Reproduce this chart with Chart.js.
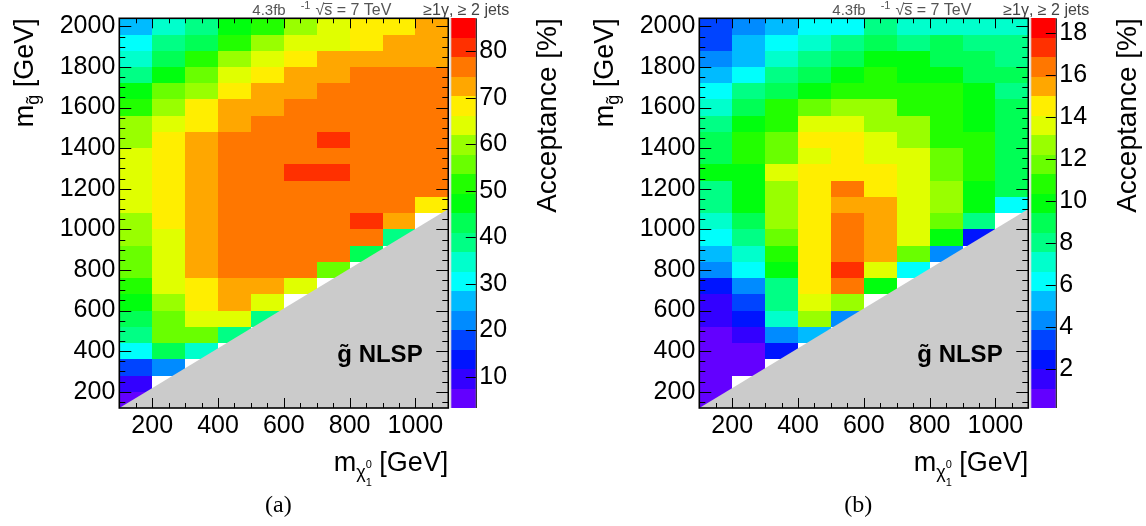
<!DOCTYPE html>
<html>
<head>
<meta charset="utf-8">
<title>Acceptance maps</title>
<script src="https://cdn.jsdelivr.net/npm/chart.js@4.4.1/dist/chart.umd.min.js"></script>
<style>
  html, body { margin: 0; padding: 0; background: #fff; overflow: hidden; }
  .panel { position: absolute; top: 0; }
  #panelA { left: 0; }
  #panelB { left: 580px; }
</style>
</head>
<body>
<canvas id="panelA" class="panel" width="580" height="526"></canvas>
<canvas id="panelB" class="panel" width="566" height="526"></canvas>
<script>
// scan points (bin centres, GeV)
const neutralinoMass = [150, 250, 350, 450, 550, 650, 750, 850, 950, 1050];
const gluinoMass = [2000, 1920, 1840, 1760, 1680, 1600, 1520, 1440, 1360, 1280, 1200, 1120,
                    1040, 960, 880, 800, 720, 640, 560, 480, 400, 320, 240, 160];

// (a) acceptance [%], one row per gluino mass, one column per neutralino mass
const acceptanceA = [
  [26.1, 34.9, 38.6, 47.0, 51.8, 59.5, 63.7, 68.4, 67.9, 72.1],
  [30.2, 39.3, 43.4, 51.0, 60.1, 64.3, 63.8, 68.6, 72.0, 72.6],
  [34.5, 42.8, 51.2, 59.6, 64.4, 68.0, 72.4, 71.9, 72.5, 72.8],
  [38.7, 47.6, 55.4, 64.2, 67.8, 72.1, 72.9, 76.2, 76.7, 76.4],
  [47.1, 55.9, 59.4, 68.3, 72.6, 72.2, 76.8, 76.3, 76.9, 76.6],
  [51.7, 60.2, 68.5, 72.0, 72.7, 76.4, 76.8, 77.0, 76.5, 76.7],
  [59.7, 63.8, 68.2, 72.4, 76.1, 76.9, 77.2, 76.6, 76.8, 76.3],
  [60.1, 68.0, 72.3, 76.7, 77.1, 76.9, 80.5, 77.3, 76.8, 76.5],
  [64.1, 68.4, 72.0, 76.6, 77.0, 77.4, 77.1, 76.9, 76.7, 76.2],
  [63.9, 68.3, 72.5, 76.8, 77.2, 80.6, 80.9, 77.0, 76.6, 76.4],
  [64.3, 67.9, 72.2, 76.5, 77.0, 77.3, 76.9, 76.7, 76.8, 76.1],
  [64.0, 68.2, 72.4, 76.3, 76.9, 77.1, 76.8, 76.5, 76.0, 68.4],
  [59.6, 68.1, 72.6, 76.4, 76.8, 76.7, 76.9, 80.8, 72.1, null],
  [59.9, 63.6, 72.3, 76.2, 76.6, 76.8, 76.5, 76.1, 38.8, null],
  [55.8, 63.9, 72.1, 76.0, 76.4, 76.3, 75.9, 43.0, null, null],
  [55.4, 64.2, 71.8, 75.8, 76.2, 75.6, 55.5, null, null, null],
  [51.3, 64.1, 68.0, 72.2, 71.9, 63.8, null, null, null, null],
  [47.5, 59.7, 68.3, 72.0, 63.9, null, null, null, null, null],
  [43.2, 55.7, 64.0, 63.6, 38.7, null, null, null, null, null],
  [38.9, 55.3, 55.6, 39.1, null, null, null, null, null, null],
  [30.4, 43.0, 34.6, null, null, null, null, null, null, null],
  [17.8, 22.3, null, null, null, null, null, null, null, null],
  [9.5, null, null, null, null, null, null, null, null, null],
  [5.2, null, null, null, null, null, null, null, null, null]
];

// (b) acceptance [%]
const acceptanceB = [
  [3.4, 4.3, 5.2, 6.1, 6.2, 8.0, 7.1, 7.0, 7.2, 7.1],
  [3.3, 5.3, 6.2, 7.1, 8.1, 9.0, 7.9, 8.9, 8.0, 8.1],
  [4.3, 5.2, 7.0, 8.0, 9.0, 9.9, 9.8, 9.0, 8.9, 8.0],
  [5.3, 6.1, 8.0, 8.9, 9.9, 10.8, 9.9, 9.8, 9.0, 8.9],
  [6.2, 8.1, 9.0, 9.9, 10.8, 10.9, 10.7, 10.8, 9.8, 8.0],
  [7.1, 9.0, 10.8, 11.8, 12.7, 12.6, 10.9, 10.8, 9.9, 9.0],
  [8.0, 9.9, 10.8, 13.6, 13.7, 12.7, 12.6, 10.8, 9.9, 8.9],
  [9.0, 10.8, 11.7, 14.5, 14.6, 13.6, 12.7, 10.9, 10.8, 9.0],
  [8.9, 10.9, 11.8, 13.6, 14.5, 13.7, 13.6, 11.7, 10.8, 8.9],
  [9.9, 9.8, 13.6, 14.6, 14.5, 14.6, 13.7, 11.8, 10.8, 9.0],
  [8.0, 9.9, 12.7, 14.5, 16.4, 14.6, 13.6, 12.7, 9.9, 8.9],
  [8.1, 9.8, 12.6, 14.5, 15.5, 15.4, 13.6, 12.7, 9.8, 6.2],
  [7.1, 9.0, 12.7, 14.6, 16.4, 15.5, 13.6, 11.8, 8.0, null],
  [6.1, 8.0, 11.7, 14.5, 16.5, 15.4, 13.7, 9.9, 2.4, null],
  [5.2, 7.1, 10.8, 14.6, 16.4, 15.5, 11.7, 4.3, null, null],
  [4.3, 6.2, 9.9, 14.5, 17.3, 13.6, 6.2, null, null, null],
  [2.5, 4.3, 8.0, 14.6, 16.4, 9.9, null, null, null, null],
  [1.5, 3.4, 8.1, 13.6, 12.7, null, null, null, null, null],
  [1.5, 2.4, 7.0, 12.6, 4.3, null, null, null, null, null],
  [0.6, 1.5, 4.2, 5.2, null, null, null, null, null, null],
  [0.5, 0.6, 2.5, null, null, null, null, null, null, null],
  [0.6, 0.5, null, null, null, null, null, null, null, null],
  [0.6, null, null, null, null, null, null, null, null, null],
  [0.5, null, null, null, null, null, null, null, null, null]
];

// colour scale ranges and tick labels
const zRangeA = [3.3, 87.1];
const zRangeB = [0.12, 18.72];
const zTicksA = [10, 20, 30, 40, 50, 60, 70, 80];
const zTicksB = [2, 4, 6, 8, 10, 12, 14, 16, 18];
const xTicks = [200, 400, 600, 800, 1000];
const yTicks = [200, 400, 600, 800, 1000, 1200, 1400, 1600, 1800, 2000];
const xRange = [100, 1100];
const yRange = [120, 2040];

// kinematic limit (m_gluino < m_neutralino is excluded)
const limitNeutralino = [100, 1100];
const limitGluino = [120, 1100];

const nContours = 20;
const SANS = '"Liberation Sans", Arial, Helvetica, sans-serif';
Chart.defaults.font.family = SANS;

// ROOT "pretty" palette: 50 hues from violet to red, 20 contour bands
function bandColour(band) {
    const idx = Math.floor((band + 0.99) * 50 / nContours);
    if (idx >= 49) return 'rgb(255,0,0)';
    return 'hsl(' + (280 - (idx + 1) * 5.6) + ',100%,50%)';
}

function bandOf(v, zMin, zMax) {
    const b = Math.floor((v - zMin) / (zMax - zMin) * nContours);
    return Math.max(0, Math.min(nContours - 1, b));
}

function line(ctx, x0, y0, x1, y1) {
    ctx.beginPath();
    ctx.moveTo(x0, y0);
    ctx.lineTo(x1, y1);
    ctx.stroke();
}

// draws a run of text pieces on one baseline (sub/superscripts via dy)
function drawParts(ctx, parts, x, y, align) {
    let total = 0;
    parts.forEach(p => {
        ctx.font = (p.bold ? 'bold ' : '') + p.size + 'px ' + SANS;
        p.w = ctx.measureText(p.t).width;
        if (p.adv !== false) total += p.w + (p.gap || 0);
    });
    let cx = align === 'right' ? x - total : (align === 'center' ? x - total / 2 : x);
    ctx.textAlign = 'left';
    parts.forEach(p => {
        ctx.font = (p.bold ? 'bold ' : '') + p.size + 'px ' + SANS;
        cx += p.gap || 0;
        p.x = cx;
        ctx.fillText(p.t, cx, y + (p.dy || 0));
        if (p.adv !== false) cx += p.w;
    });
    return parts;
}

const heatmapPlugin = {
    id: 'heatmap',
    beforeDatasetsDraw(chart) {
        const {ctx, chartArea: a, scales: {x, y, z}} = chart;
        const hx = (neutralinoMass[1] - neutralinoMass[0]) / 2;
        const hy = (gluinoMass[0] - gluinoMass[1]) / 2;
        ctx.save();
        ctx.beginPath();
        ctx.rect(a.left, a.top, a.width, a.height);
        ctx.clip();
        chart.data.datasets[0].data.forEach(p => {
            const x0 = Math.round(x.getPixelForValue(p.x - hx));
            const x1 = Math.round(x.getPixelForValue(p.x + hx));
            const y0 = Math.round(y.getPixelForValue(p.y + hy));
            const y1 = Math.round(y.getPixelForValue(p.y - hy));
            ctx.fillStyle = bandColour(bandOf(p.v, z.min, z.max));
            ctx.fillRect(x0, y0, x1 - x0, y1 - y0);
        });
        // excluded region
        ctx.fillStyle = '#cbcbcb';
        ctx.beginPath();
        ctx.moveTo(x.getPixelForValue(limitNeutralino[0]), y.getPixelForValue(limitGluino[0]));
        ctx.lineTo(x.getPixelForValue(limitNeutralino[1]), y.getPixelForValue(limitGluino[1]));
        ctx.lineTo(x.getPixelForValue(limitNeutralino[1]), y.getPixelForValue(limitGluino[0]));
        ctx.closePath();
        ctx.fill();
        ctx.restore();
    },
    afterDraw(chart, args, opts) {
        const {ctx, chartArea: a, scales: {x, y, z}} = chart;
        ctx.save();
        ctx.strokeStyle = '#000';
        ctx.fillStyle = '#000';

        // frame with ticks on all four sides
        ctx.lineWidth = 1;
        for (let v = 150; v <= 2000; v += 50) {
            const py = Math.round(y.getPixelForValue(v)) + 0.5;
            const len = v % 200 === 0 ? 12 : 6;
            line(ctx, a.left, py, a.left + len, py);
            line(ctx, a.right, py, a.right - len, py);
        }
        for (let v = 150; v < 1100; v += 50) {
            const px = Math.round(x.getPixelForValue(v)) + 0.5;
            const len = v % 200 === 0 ? 10 : 5;
            line(ctx, px, a.bottom, px, a.bottom - len);
            line(ctx, px, a.top, px, a.top + len);
        }
        ctx.lineWidth = 1.6;
        ctx.strokeRect(a.left, a.top, a.width, a.height);

        // colour palette
        const p0 = a.right + 2.5, p1 = a.right + 27.5;
        for (let k = 0; k < nContours; k++) {
            const lo = z.min + k * (z.max - z.min) / nContours;
            const hi = z.min + (k + 1) * (z.max - z.min) / nContours;
            const yLo = Math.round(z.getPixelForValue(lo));
            const yHi = Math.round(z.getPixelForValue(hi));
            ctx.fillStyle = bandColour(k);
            ctx.fillRect(p0, yHi, p1 - p0, yLo - yHi);
        }
        ctx.lineWidth = 1;
        line(ctx, p1 + 0.5, a.top, p1 + 0.5, a.bottom);
        ctx.strokeStyle = '#ddd';
        line(ctx, p0, a.top, p0, a.bottom);
        ctx.strokeStyle = '#000';
        z.ticks.forEach(t => {
            const py = Math.round(z.getPixelForValue(t.value)) + 0.5;
            line(ctx, p1, py, p1 - 10, py);
        });

        ctx.fillStyle = '#000';
        ctx.textBaseline = 'alphabetic';

        // gluino NLSP label
        drawParts(ctx, [{t: 'g\u0303 NLSP', size: 24, bold: true}], a.right - 111, a.bottom - 46, 'left');

        // x title
        drawParts(ctx, [
            {t: 'm', size: 27},
            {t: '\u03C7', size: 18, dy: 7},
            {t: '0', size: 11, dy: -3, adv: false},
            {t: '1', size: 11, dy: 15},
            {t: ' [GeV]', size: 27}
        ], a.right, a.bottom + 63, 'right');

        // y title
        ctx.save();
        ctx.translate(a.left - 86, a.top);
        ctx.rotate(-Math.PI / 2);
        drawParts(ctx, [
            {t: 'm', size: 27},
            {t: 'g\u0303', size: 18, dy: 6},
            {t: ' [GeV]', size: 27}
        ], 0, 0, 'right');
        ctx.restore();

        // colour axis title
        ctx.save();
        ctx.translate(a.right + 108, a.top);
        ctx.rotate(-Math.PI / 2);
        drawParts(ctx, [{t: 'Acceptance [%]', size: 28}], 0, 0, 'right');
        ctx.restore();

        // header
        ctx.fillStyle = '#555';
        const head = drawParts(ctx, [
            {t: '4.3fb', size: 15},
            {t: '-1', size: 11, dy: -6, gap: 15},
            {t: '\u221As = 7 TeV', size: 16, gap: 5}
        ], a.left + 133, 15, 'left');
        ctx.font = '16px ' + SANS;
        const sx = head[2].x + ctx.measureText('\u221A').width;
        ctx.strokeStyle = '#555';
        line(ctx, sx - 1, 3.5, sx + ctx.measureText('s').width, 3.5);
        ctx.fillStyle = '#444';
        drawParts(ctx, [{t: '\u22651\u03B3, \u2265 2 jets', size: 16}], a.right + 61, 15, 'right');

        // panel tag
        ctx.fillStyle = '#000';
        ctx.font = '24px "Liberation Serif", "DejaVu Serif", serif';
        ctx.textAlign = 'center';
        ctx.fillText(opts.tag, a.left + 159, 512);
        ctx.restore();
    }
};

function makeChart(id, values, zRange, zTicks, tag) {
    const cells = [];
    gluinoMass.forEach((mg, r) => {
        neutralinoMass.forEach((mx, c) => {
            const v = values[r][c];
            if (v !== null) cells.push({x: mx, y: mg, v: v});
        });
    });
    const canvas = document.getElementById(id);
    const tickFont = {size: 25};
    return new Chart(canvas, {
        type: 'scatter',
        data: {datasets: [{data: cells, pointRadius: 0, pointHoverRadius: 0}]},
        options: {
            responsive: false,
            animation: false,
            events: [],
            layout: {padding: {top: 18.3, left: 0, right: 0, bottom: 0}},
            plugins: {
                legend: {display: false},
                tooltip: {enabled: false},
                heatmap: {tag: tag}
            },
            scales: {
                x: {
                    type: 'linear', position: 'bottom', min: xRange[0], max: xRange[1],
                    grid: {display: false, drawTicks: false}, border: {display: false},
                    ticks: {font: tickFont, color: '#000', padding: 3, maxRotation: 0, autoSkip: false,
                            callback: v => String(v)},
                    afterBuildTicks: s => { s.ticks = xTicks.map(v => ({value: v})); },
                    afterFit: s => { s.height = 118; s.paddingLeft = 0; s.paddingRight = 0; }
                },
                y: {
                    type: 'linear', position: 'left', min: yRange[0], max: yRange[1],
                    grid: {display: false, drawTicks: false}, border: {display: false},
                    ticks: {font: tickFont, color: '#000', padding: 4, autoSkip: false,
                            callback: v => String(v)},
                    afterBuildTicks: s => { s.ticks = yTicks.map(v => ({value: v})); },
                    afterFit: s => { s.width = 119.3; s.paddingTop = 0; s.paddingBottom = 0; }
                },
                z: {
                    type: 'linear', axis: 'y', position: 'right', min: zRange[0], max: zRange[1],
                    grid: {display: false, drawTicks: false}, border: {display: false},
                    ticks: {font: tickFont, color: '#000', padding: 31, autoSkip: false,
                            callback: v => String(v)},
                    afterBuildTicks: s => { s.ticks = zTicks.map(v => ({value: v})); },
                    afterFit: s => { s.width = canvas.width - 448.3; s.paddingTop = 0; s.paddingBottom = 0; }
                }
            }
        },
        plugins: [heatmapPlugin]
    });
}

makeChart('panelA', acceptanceA, zRangeA, zTicksA, '(a)');
makeChart('panelB', acceptanceB, zRangeB, zTicksB, '(b)');
</script>
</body>
</html>
